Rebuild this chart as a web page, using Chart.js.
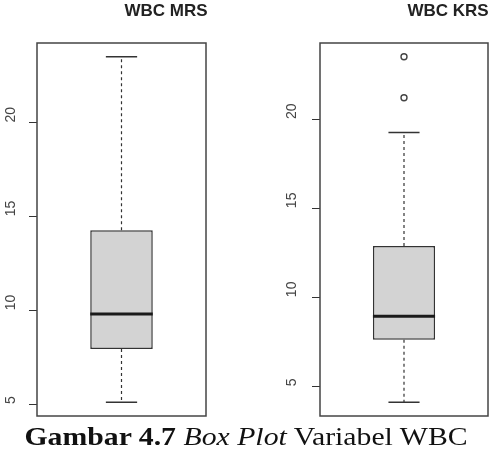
<!DOCTYPE html>
<html>
<head>
<meta charset="utf-8">
<script src="https://cdn.jsdelivr.net/npm/chart.js@4"></script>
<style>
  body { margin: 0; background: #fff; }
  #page { position: relative; width: 496px; height: 450px; overflow: hidden; }
  canvas { position: absolute; top: 0; }
  .ttl {
    position: absolute; top: 2px; font: bold 17px "Liberation Sans", Arial, sans-serif;
    line-height: 17px; color: #222; white-space: nowrap; transform: translateX(-50%);
  }
  #caption {
    position: absolute; top: 424px; left: 246px; white-space: nowrap;
    font: 26px "Liberation Serif", "Times New Roman", serif; line-height: 26px; color: #111;
  }
</style>
</head>
<body>
<div id="page">
  <canvas id="c0" width="248" height="450" style="left:0"></canvas>
  <canvas id="c1" width="248" height="450" style="left:248px"></canvas>
  <div class="ttl" id="t0" style="left:166px"></div>
  <div class="ttl" id="t1" style="left:448px"></div>
  <div id="caption"><b>Gambar 4.7</b> <i>Box Plot</i> Variabel WBC</div>
</div>
<script>
/* =========================
   DATA
========================= */

const panels = ["WBC MRS", "WBC KRS"];
const lowWhisker = [5.1, 4.1];
const q1Vals = [7.93, 7.61];
const medianVals = [9.8, 8.93];
const q3Vals = [14.26, 12.88];
const highWhisker = [23.5, 19.25];
const outlierVals = [[], [21.2, 23.5]];
const yTicks = [5, 10, 15, 20];

/* =========================
   LAYOUT PER PANEL
========================= */

const padLeft = [4, 37];
const axisWidth = [33, 35];
const padRight = [42, 8];

/* =========================
   BOX PARTS PLUGIN
========================= */

const boxParts = {
    id: "boxParts",
    afterDatasetsDraw(chart) {
        const i = chart.options.plugins.boxParts.panel;
        const bar = chart.getDatasetMeta(0).data[0];
        const y = chart.scales.y;
        const ctx = chart.ctx;
        const x = bar.x;
        const half = bar.width / 2;

        ctx.save();
        ctx.strokeStyle = "#333";

        // dashed whiskers
        ctx.lineWidth = 1.2;
        ctx.setLineDash([3, 3]);
        ctx.beginPath();
        ctx.moveTo(x, y.getPixelForValue(q3Vals[i]));
        ctx.lineTo(x, y.getPixelForValue(highWhisker[i]));
        ctx.moveTo(x, y.getPixelForValue(q1Vals[i]));
        ctx.lineTo(x, y.getPixelForValue(lowWhisker[i]));
        ctx.stroke();

        // staples
        ctx.setLineDash([]);
        ctx.lineWidth = 1.5;
        ctx.beginPath();
        [highWhisker[i], lowWhisker[i]].forEach(v => {
            let py = y.getPixelForValue(v);
            ctx.moveTo(x - half / 2, py);
            ctx.lineTo(x + half / 2, py);
        });
        ctx.stroke();

        // median
        ctx.strokeStyle = "#1a1a1a";
        ctx.lineWidth = 3;
        ctx.beginPath();
        let my = y.getPixelForValue(medianVals[i]);
        ctx.moveTo(x - half, my);
        ctx.lineTo(x + half, my);
        ctx.stroke();

        ctx.restore();
    },
    afterDraw(chart) {
        const a = chart.chartArea;
        const ctx = chart.ctx;
        ctx.save();
        ctx.strokeStyle = "#444";
        ctx.lineWidth = 1.5;
        ctx.strokeRect(a.left, a.top, a.right - a.left, a.bottom - a.top);
        ctx.restore();
    }
};

/* =========================
   BUILD CHARTS
========================= */

function makePanel(i) {
    let lo = Math.min(lowWhisker[i], ...outlierVals[i]);
    let hi = Math.max(highWhisker[i], ...outlierVals[i]);
    let ext = (hi - lo) * 0.04;

    document.getElementById("t" + i).textContent = panels[i];

    new Chart(document.getElementById("c" + i), {
        type: "bar",
        data: {
            labels: [panels[i]],
            datasets: [{
                data: [[q1Vals[i], q3Vals[i]]],
                backgroundColor: "#d3d3d3",
                borderColor: "#333",
                borderWidth: 1.5,
                borderSkipped: false,
                barPercentage: 0.37,
                categoryPercentage: 1
            }, {
                type: "line",
                data: outlierVals[i].map(v => ({ x: panels[i], y: v })),
                showLine: false,
                pointRadius: 3,
                pointBorderWidth: 1.4,
                pointBorderColor: "#444",
                pointBackgroundColor: "#fff"
            }]
        },
        options: {
            responsive: false,
            animation: false,
            layout: { padding: { left: padLeft[i], right: padRight[i], top: 43, bottom: 34 } },
            plugins: {
                legend: { display: false },
                tooltip: { enabled: false },
                boxParts: { panel: i }
            },
            scales: {
                x: { display: false },
                y: {
                    min: lo - ext,
                    max: hi + ext,
                    afterBuildTicks: s => { s.ticks = yTicks.map(v => ({ value: v })); },
                    afterFit: s => { s.width = axisWidth[i]; },
                    border: { display: false },
                    grid: { drawOnChartArea: false, drawTicks: true, tickLength: 8, color: "#333", lineWidth: 1 },
                    ticks: {
                        minRotation: 90,
                        maxRotation: 90,
                        crossAlign: "far",
                        align: "start",
                        padding: 0,
                        color: "#444",
                        font: { family: "Liberation Sans", size: 14 }
                    }
                }
            }
        },
        plugins: [boxParts]
    });
}

panels.forEach((p, i) => makePanel(i));

/* ---------- stretch caption to reference width ---------- */
const cap = document.getElementById("caption");
const sx = 443 / cap.offsetWidth;
cap.style.transform = "translateX(-50%) scaleX(" + sx.toFixed(3) + ")";
</script>
</body>
</html>
